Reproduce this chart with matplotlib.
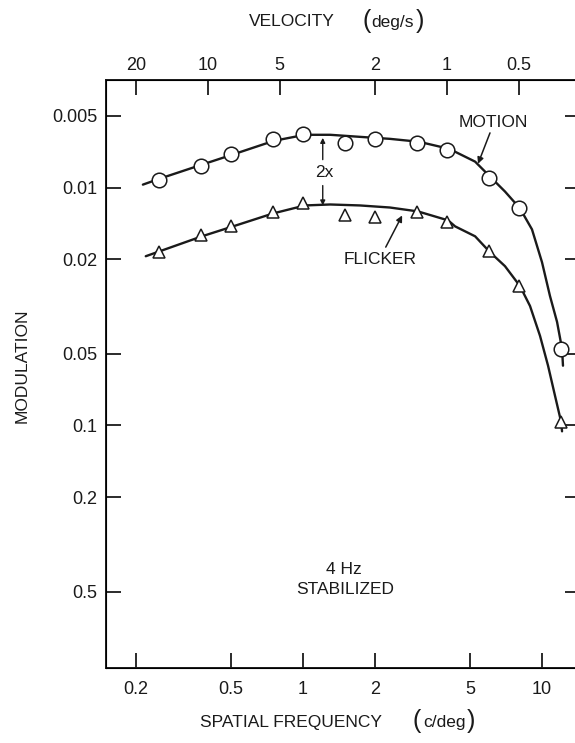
import matplotlib.pyplot as plt
from matplotlib.ticker import NullLocator

plt.rcParams['font.family'] = ['Liberation Sans', 'DejaVu Sans']
INK = '#1a1a1a'

# spatial frequencies tested (c/deg), 4 Hz drift / flicker, stabilized
freqs = [0.25, 0.375, 0.5, 0.75, 1, 1.5, 2, 3, 4, 6, 8, 12]
motion = [0.00926, 0.0081, 0.00721, 0.00624, 0.00594, 0.00649,
          0.00624, 0.00649, 0.00693, 0.00908, 0.01224, 0.0477]
flicker = [0.0187, 0.0159, 0.01456, 0.01272, 0.01166, 0.0130,
           0.01336, 0.01272, 0.0140, 0.01853, 0.02596, 0.0970]

# hand-fitted smooth curves
motion_fit_f = [0.214, 0.252, 0.378, 0.505, 0.756, 1.02, 1.30, 1.73, 2.31,
                3.06, 4.08, 4.33, 5.25, 6.12, 7.0, 8.09, 9.08, 10.0, 10.8,
                11.56, 12.13, 12.24]
motion_fit_m = [0.00972, 0.00917, 0.00801, 0.00728, 0.00636, 0.0060, 0.0060,
                0.00612, 0.00624, 0.00642, 0.00687, 0.00707, 0.00778, 0.00908,
                0.01039, 0.01224, 0.01499, 0.0206, 0.02858, 0.03672, 0.04763,
                0.0561]
flicker_fit_f = [0.220, 0.252, 0.378, 0.510, 0.749, 1.02, 1.30, 1.73, 2.31,
                 3.03, 4.05, 4.33, 5.25, 6.06, 7.0, 8.09, 8.91, 9.81, 10.6,
                 11.33, 12.01, 12.13]
flicker_fit_m = [0.01944, 0.01852, 0.01603, 0.01456, 0.01285, 0.01189, 0.01178,
                 0.01189, 0.01213, 0.0126, 0.01374, 0.01456, 0.01603, 0.0187,
                 0.0214, 0.02596, 0.03147, 0.04201, 0.0561, 0.0749, 0.09623,
                 0.1059]

temporal_hz = 4
velocities = [20, 10, 5, 2, 1, 0.5]
sf_ticks = [0.2, 0.5, 1, 2, 5, 10]
mod_ticks = [0.005, 0.01, 0.02, 0.05, 0.1, 0.2, 0.5]

W, H = 575, 743
fig = plt.figure(figsize=(W / 100, H / 100), dpi=100)
L, R, T, B = 106, 580, 80, 668
ax = fig.add_axes([L / W, 1 - B / H, (R - L) / W, (B - T) / H])

ax.set_xscale('log')
ax.set_yscale('log')
ax.set_xlim(0.150, 14.42)
ax.set_ylim(1.047, 0.00353)

ax.plot(motion_fit_f, motion_fit_m, color=INK, lw=1.7, zorder=2,
        solid_joinstyle='round', solid_capstyle='round')
ax.plot(flicker_fit_f, flicker_fit_m, color=INK, lw=1.7, zorder=2,
        solid_joinstyle='round', solid_capstyle='round')
ax.plot(freqs, motion, 'o', ms=10.5, mfc='white', mec=INK, mew=1.1, zorder=3)
ax.plot(freqs, flicker, '^', ms=9, mfc='white', mec=INK, mew=1.1, zorder=3)

ax.xaxis.set_minor_locator(NullLocator())
ax.yaxis.set_minor_locator(NullLocator())
ax.set_xticks(sf_ticks)
ax.set_xticklabels([f'{v:g}' for v in sf_ticks])
ax.set_yticks(mod_ticks)
ax.set_yticklabels([f'{v:g}' for v in mod_ticks])
ax.tick_params(axis='x', which='major', direction='in', length=11, width=1.3,
               labelsize=13, pad=9, colors=INK)
ax.tick_params(axis='y', which='major', direction='in', length=11, width=1.3,
               labelsize=13, pad=6, right=True, colors=INK)
for side in ('left', 'bottom', 'right', 'top'):
    ax.spines[side].set_linewidth(1.4)
    ax.spines[side].set_color(INK)

# velocity axis on top: v = temporal frequency / spatial frequency
top = ax.twiny()
top.set_xscale('log')
top.set_xlim(ax.get_xlim())
top.xaxis.set_minor_locator(NullLocator())
top.set_xticks([temporal_hz / v for v in velocities])
top.set_xticklabels([f'{v:g}' for v in velocities])
top.tick_params(axis='x', direction='in', length=11, width=1.3,
                labelsize=13, pad=4, colors=INK)

# axis titles
fig.text(292 / W, 1 - 22 / H, 'VELOCITY', ha='center', va='center',
         fontsize=12.5, color=INK)
fig.text(393 / W, 1 - 22 / H, 'deg/s', ha='center', va='center',
         fontsize=12.5, color=INK)
fig.text(367 / W, 1 - 21 / H, '(', ha='center', va='center',
         fontsize=18, color=INK)
fig.text(420 / W, 1 - 21 / H, ')', ha='center', va='center',
         fontsize=18, color=INK)
fig.text(291 / W, 1 - 722 / H, 'SPATIAL FREQUENCY', ha='center', va='center',
         fontsize=12.5, color=INK)
fig.text(444 / W, 1 - 722 / H, 'c/deg', ha='center', va='center',
         fontsize=12.5, color=INK)
fig.text(417 / W, 1 - 721 / H, '(', ha='center', va='center',
         fontsize=18, color=INK)
fig.text(471 / W, 1 - 721 / H, ')', ha='center', va='center',
         fontsize=18, color=INK)
fig.text(22 / W, 1 - 366 / H, 'MODULATION', ha='center', va='center',
         rotation=90, fontsize=12.5, color=INK)

# curve labels with leaders
ax.text(6.24, 0.00534, 'MOTION', ha='center', va='center', fontsize=12.5, color=INK)
ax.annotate('', xy=(5.40, 0.00794), xytext=(6.06, 0.00589),
            arrowprops=dict(arrowstyle='-|>', color=INK, lw=1.1,
                            mutation_scale=9, shrinkA=0, shrinkB=0))
ax.text(2.10, 0.0200, 'FLICKER', ha='center', va='center', fontsize=12.5, color=INK)
ax.annotate('', xy=(2.60, 0.0131), xytext=(2.22, 0.0178),
            arrowprops=dict(arrowstyle='-|>', color=INK, lw=1.1,
                            mutation_scale=9, shrinkA=0, shrinkB=0))

# factor-of-two gap between the curves
ax.text(1.23, 0.00865, '2x', ha='center', va='center', fontsize=12.5, color=INK)
ax.annotate('', xy=(1.21, 0.00618), xytext=(1.21, 0.00763),
            arrowprops=dict(arrowstyle='-|>', color=INK, lw=1.0,
                            mutation_scale=7, shrinkA=0, shrinkB=0))
ax.annotate('', xy=(1.21, 0.01189), xytext=(1.21, 0.00981),
            arrowprops=dict(arrowstyle='-|>', color=INK, lw=1.0,
                            mutation_scale=7, shrinkA=0, shrinkB=0))

fig.text(344 / W, 1 - 570 / H, '4 Hz', ha='center', va='center',
         fontsize=12.5, color=INK)
fig.text(345 / W, 1 - 590 / H, 'STABILIZED', ha='center', va='center',
         fontsize=12.5, color=INK)

fig.savefig('out.png', dpi=100)
